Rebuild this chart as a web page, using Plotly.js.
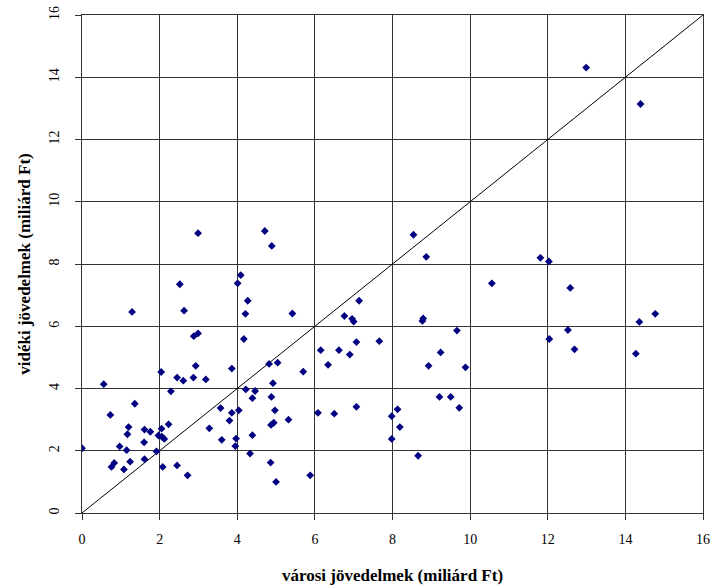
<!DOCTYPE html>
<html>
<head>
<meta charset="utf-8">
<script src="https://cdn.plot.ly/plotly-3.0.1.min.js"></script>
<style>html,body{margin:0;padding:0;background:#fff;}#chart{width:712px;height:588px;}</style>
</head>
<body>
<div id="chart"></div>
<script>
// városi jövedelmek (x) and vidéki jövedelmek (y), miliárd Ft
const varosi = [
  1.29,2.63,4.27,4.21,2.88,2.99,4.17,2.93,3.86,2.04,2.45,2.61,2.87,3.19,0.56,2.29,4.22,4.46,4.39,1.36,
  3.57,3.86,4.04,3.80,0.73,1.20,1.17,1.61,1.76,2.05,2.23,1.97,2.06,2.12,1.60,3.28,3.60,3.97,3.95,4.39,
  4.33,0.00,0.97,1.15,1.92,1.61,1.24,0.83,0.76,1.08,2.08,2.45,2.72,
  7.14,5.42,6.76,6.96,7.00,8.79,8.77,9.66,6.15,6.62,7.07,7.66,6.90,6.34,9.24,8.93,5.70,4.82,5.04,4.92,
  4.88,4.97,4.87,4.94,5.32,6.08,6.50,7.07,7.98,8.13,8.19,7.98,9.21,9.50,9.72,8.66,4.86,5.00,5.88,
  14.77,14.36,12.52,12.04,12.69,14.27,9.88,
  12.99,14.39,8.54,8.87,11.81,12.03,10.56,12.58,
  2.99,4.71,4.89,4.09,4.01,2.52
];
const videki = [
  6.46,6.50,6.82,6.40,5.68,5.77,5.59,4.73,4.64,4.53,4.35,4.25,4.35,4.29,4.14,3.91,3.97,3.92,3.69,3.51,
  3.37,3.22,3.30,2.97,3.15,2.76,2.53,2.68,2.61,2.71,2.85,2.49,2.45,2.38,2.27,2.72,2.35,2.39,2.15,2.50,
  1.91,2.08,2.14,2.02,1.98,1.73,1.65,1.61,1.48,1.40,1.48,1.53,1.21,
  6.82,6.41,6.33,6.24,6.15,6.25,6.17,5.86,5.23,5.23,5.49,5.52,5.09,4.76,5.16,4.73,4.54,4.79,4.83,4.17,
  3.73,3.30,2.83,2.90,3.00,3.22,3.19,3.41,3.11,3.33,2.76,2.38,3.73,3.73,3.38,1.84,1.62,1.00,1.21,
  6.40,6.14,5.88,5.59,5.26,5.12,4.68,
  14.31,13.14,8.94,8.23,8.20,8.08,7.38,7.23,
  8.99,9.06,8.58,7.64,7.38,7.35
];
// equality line
const egyenloX = [0, 16];
const egyenloY = [0, 16];
const tickVals = [0, 2, 4, 6, 8, 10, 12, 14, 16];

const traces = [
  {x: egyenloX, y: egyenloY, type: 'scatter', mode: 'lines',
   line: {color: '#000', width: 1}, hoverinfo: 'skip', showlegend: false},
  {x: varosi, y: videki, type: 'scatter', mode: 'markers',
   marker: {symbol: 'diamond', size: 6, color: '#000080', line: {width: 0}}, showlegend: false}
];

const serif = 'Liberation Serif, Times New Roman, serif';
const layout = {
  width: 712, height: 588,
  paper_bgcolor: '#fff', plot_bgcolor: '#fff',
  margin: {l: 82, r: 9, t: 15, b: 74.5, pad: 0},
  showlegend: false,
  xaxis: {
    range: [0, 16], tickvals: tickVals, ticktext: tickVals.map(String),
    showgrid: true, gridcolor: '#333', gridwidth: 1, zeroline: false,
    showline: true, linecolor: '#333', linewidth: 1, mirror: true,
    ticks: 'outside', ticklen: 6, tickcolor: '#333', ticklabelstandoff: 7,
    tickfont: {family: serif, size: 14, color: '#000'},
    title: {text: 'városi jövedelmek (miliárd Ft)', standoff: 23,
            font: {family: serif, size: 17, color: '#000', weight: 'bold'}},
    automargin: false
  },
  yaxis: {
    range: [0, 16], tickvals: tickVals, ticktext: tickVals.map(String),
    showgrid: true, gridcolor: '#333', gridwidth: 1, zeroline: false,
    showline: true, linecolor: '#333', linewidth: 1, mirror: true,
    ticks: 'outside', ticklen: 6, tickcolor: '#333', tickangle: -90, ticklabelstandoff: 10,
    tickfont: {family: serif, size: 14, color: '#000'},
    title: {text: 'vidéki jövedelmek (miliárd Ft)', standoff: 12,
            font: {family: serif, size: 17, color: '#000', weight: 'bold'}},
    automargin: false
  }
};

Plotly.newPlot('chart', traces, layout, {displayModeBar: false, staticPlot: true});
</script>
</body>
</html>
